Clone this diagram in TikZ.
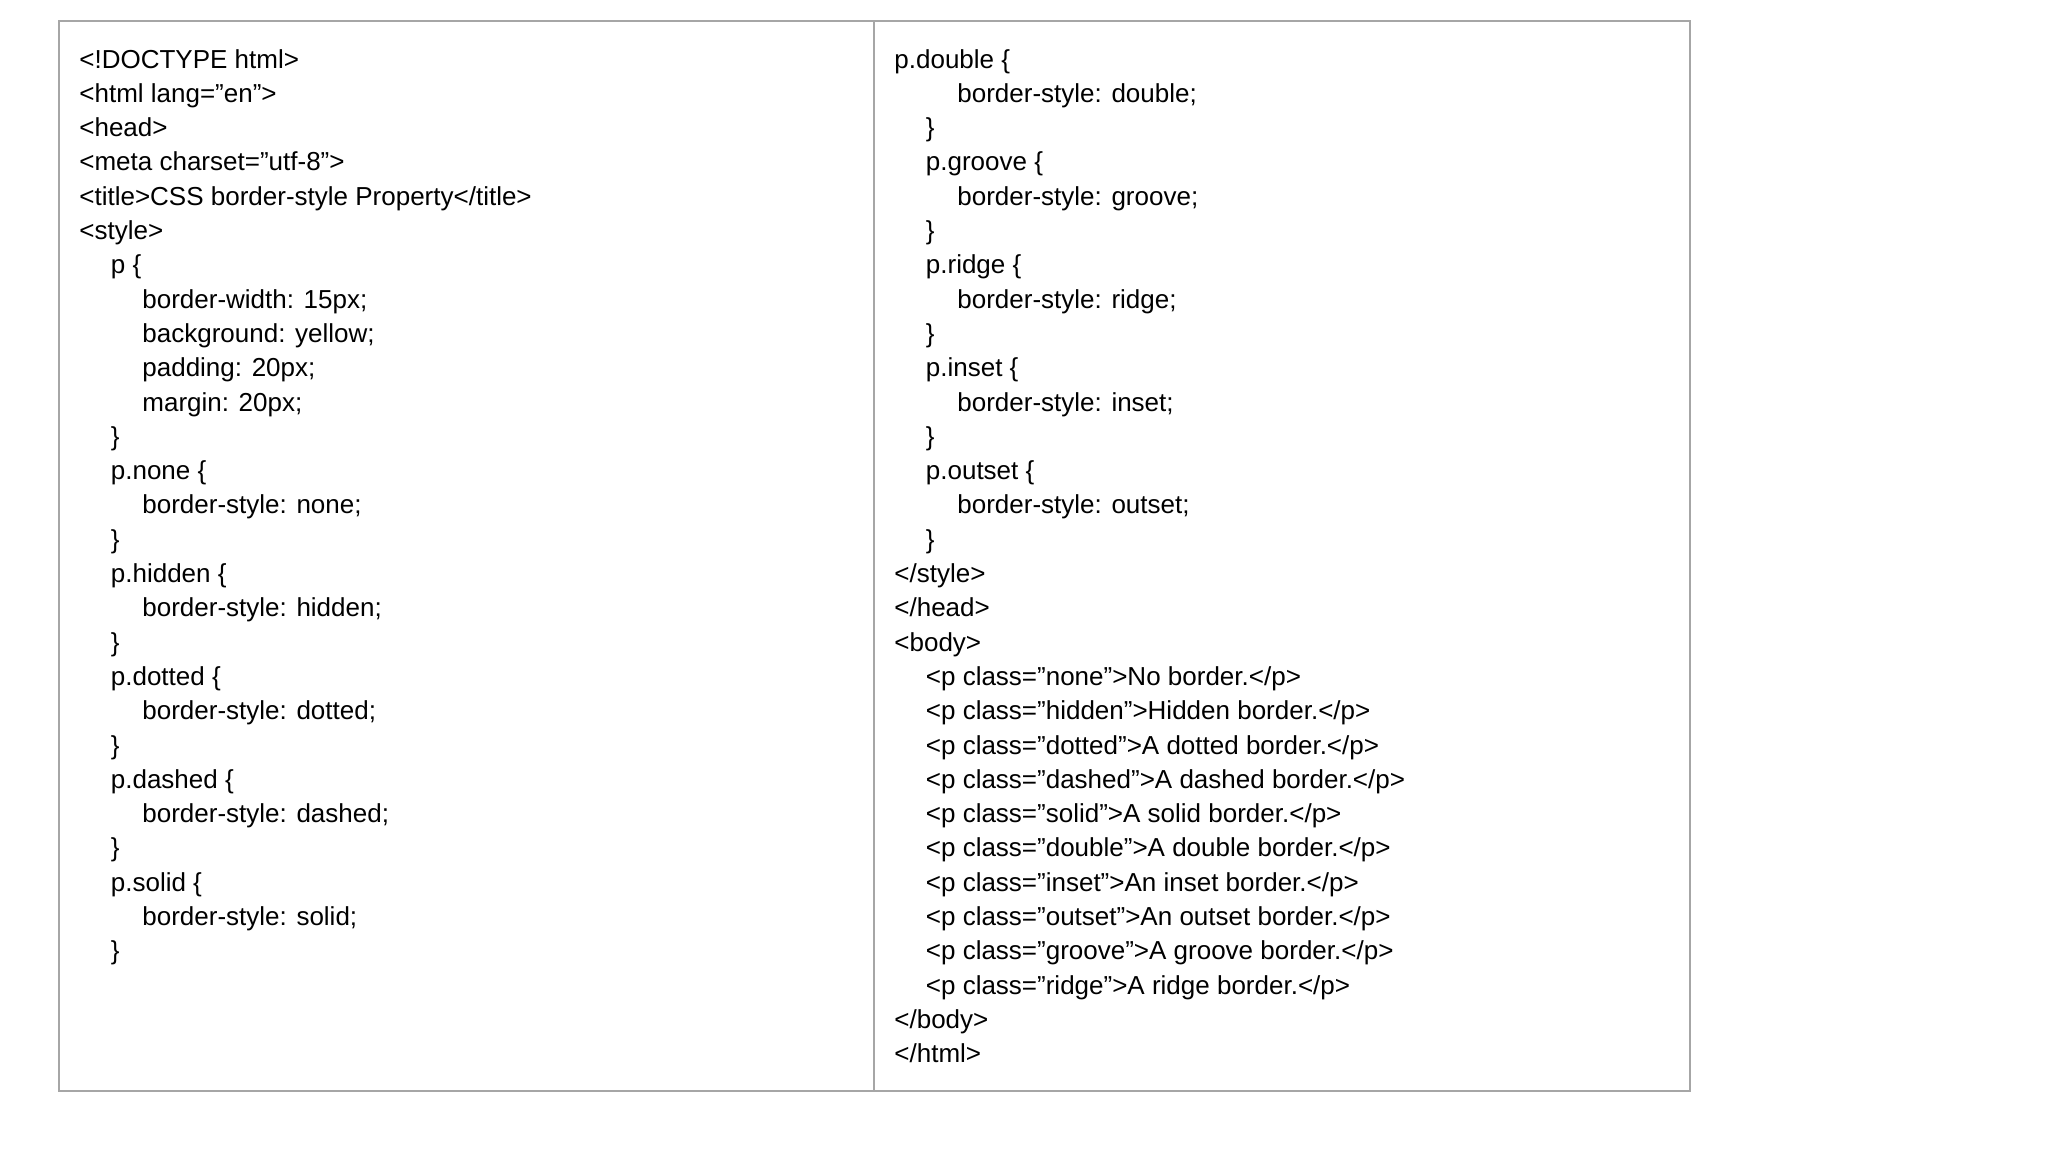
\documentclass[tikz,border=0pt]{standalone}
\usepackage{fontspec}
\setmainfont{Liberation Sans}
\tikzset{
  code/.style={anchor=base west, inner sep=0pt, font=\fontsize{13pt}{15pt}\selectfont},
  frame/.style={draw=gray!70, line width=1.2pt}
}
\begin{document}
\begin{tikzpicture}[x=0.5pt,y=-0.5pt]
\useasboundingbox (0,0) rectangle (2048,1152);
\draw[frame] (59,21) rectangle (1690,1091);
\draw[frame] (874,21) -- (874,1091);

% left column
\node[code] (a1)  at (79,68)    {<!DOCTYPE html>};
\node[code] (a2)  at (79,102.3) {<html lang="en">};
\node[code] (a3)  at (79,136.6) {<head>};
\node[code] (a4)  at (79,170.9) {<meta charset="utf-8">};
\node[code] (a5)  at (79,205.2) {<title>CSS border-style Property</title>};
\node[code] (a6)  at (79,239.5) {<style>};
\node[code] (a7)  at (110.5,273.8) {p \{};
\node[code] (a8)  at (142,308.1) {border-width: 15px;};
\node[code] (a9)  at (142,342.4) {background: yellow;};
\node[code] (a10) at (142,376.7) {padding: 20px;};
\node[code] (a11) at (142,411)   {margin: 20px;};
\node[code] (a12) at (110.5,445.3) {\}};
\node[code] (a13) at (110.5,479.6) {p.none \{};
\node[code] (a14) at (142,513.9) {border-style: none;};
\node[code] (a15) at (110.5,548.2) {\}};
\node[code] (a16) at (110.5,582.5) {p.hidden \{};
\node[code] (a17) at (142,616.8) {border-style: hidden;};
\node[code] (a18) at (110.5,651.1) {\}};
\node[code] (a19) at (110.5,685.4) {p.dotted \{};
\node[code] (a20) at (142,719.7) {border-style: dotted;};
\node[code] (a21) at (110.5,754)   {\}};
\node[code] (a22) at (110.5,788.3) {p.dashed \{};
\node[code] (a23) at (142,822.6) {border-style: dashed;};
\node[code] (a24) at (110.5,856.9) {\}};
\node[code] (a25) at (110.5,891.2) {p.solid \{};
\node[code] (a26) at (142,925.5) {border-style: solid;};
\node[code] (a27) at (110.5,959.8) {\}};

% right column
\node[code] (b1)  at (894,68)    {p.double \{};
\node[code] (b2)  at (957,102.3) {border-style: double;};
\node[code] (b3)  at (925.5,136.6) {\}};
\node[code] (b4)  at (925.5,170.9) {p.groove \{};
\node[code] (b5)  at (957,205.2) {border-style: groove;};
\node[code] (b6)  at (925.5,239.5) {\}};
\node[code] (b7)  at (925.5,273.8) {p.ridge \{};
\node[code] (b8)  at (957,308.1) {border-style: ridge;};
\node[code] (b9)  at (925.5,342.4) {\}};
\node[code] (b10) at (925.5,376.7) {p.inset \{};
\node[code] (b11) at (957,411)   {border-style: inset;};
\node[code] (b12) at (925.5,445.3) {\}};
\node[code] (b13) at (925.5,479.6) {p.outset \{};
\node[code] (b14) at (957,513.9) {border-style: outset;};
\node[code] (b15) at (925.5,548.2) {\}};
\node[code] (b16) at (894,582.5) {</style>};
\node[code] (b17) at (894,616.8) {</head>};
\node[code] (b18) at (894,651.1) {<body>};
\node[code] (b19) at (925.5,685.4) {<p class="none">No border.</p>};
\node[code] (b20) at (925.5,719.7) {<p class="hidden">Hidden border.</p>};
\node[code] (b21) at (925.5,754)   {<p class="dotted">A dotted border.</p>};
\node[code] (b22) at (925.5,788.3) {<p class="dashed">A dashed border.</p>};
\node[code] (b23) at (925.5,822.6) {<p class="solid">A solid border.</p>};
\node[code] (b24) at (925.5,856.9) {<p class="double">A double border.</p>};
\node[code] (b25) at (925.5,891.2) {<p class="inset">An inset border.</p>};
\node[code] (b26) at (925.5,925.5) {<p class="outset">An outset border.</p>};
\node[code] (b27) at (925.5,959.8) {<p class="groove">A groove border.</p>};
\node[code] (b28) at (925.5,994.1) {<p class="ridge">A ridge border.</p>};
\node[code] (b29) at (894,1028.4) {</body>};
\node[code] (b30) at (894,1062.7) {</html>};
\end{tikzpicture}
\end{document}
